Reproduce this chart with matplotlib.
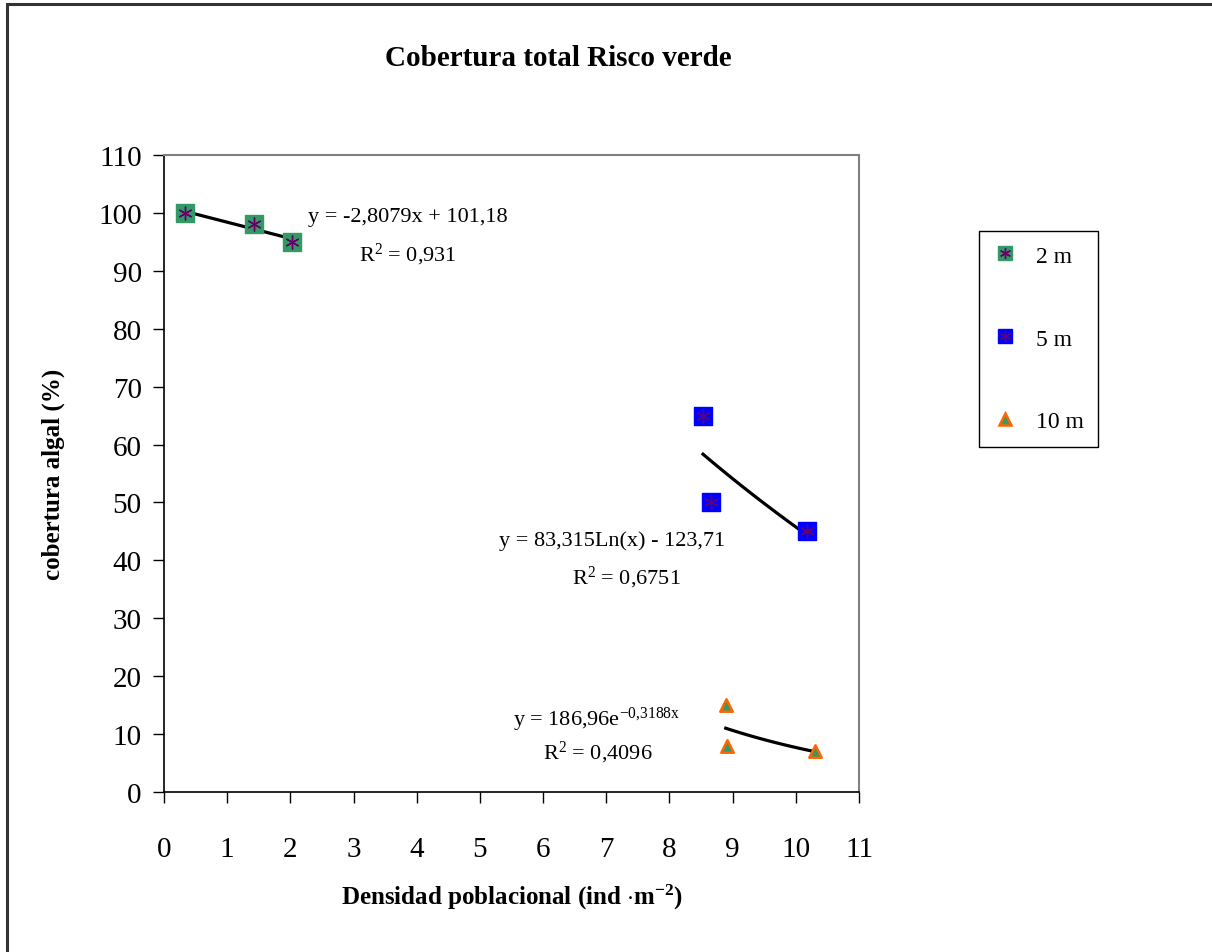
import numpy as np
import matplotlib.pyplot as plt
from matplotlib.patches import Rectangle
from matplotlib.lines import Line2D

plt.rcParams['font.family'] = ['Liberation Serif', 'DejaVu Serif']
plt.rcParams['mathtext.fontset'] = 'custom'
plt.rcParams['mathtext.rm'] = 'Liberation Serif'
plt.rcParams['mathtext.it'] = 'Liberation Serif:italic'
plt.rcParams['mathtext.bf'] = 'Liberation Serif:bold'

# data
x_2m = [0.33, 1.42, 2.03]
y_2m = [100, 98, 95]
x_5m = [8.53, 8.65, 10.17]
y_5m = [65, 50, 45]
x_10m = [8.89, 8.91, 10.30]
y_10m = [15, 8, 7]

labels = ['2 m', '5 m', '10 m']
eq_2m = ['y = -2,8079x + 101,18', 'R$^2$ = 0,931']
eq_5m = ['y = 83,315Ln(x) - 123,71', 'R$^2$ = 0,6751']
eq_10m = [r'y = 186,96e$^{\mathrm{-0{,}3188x}}$', 'R$^2$ = 0,4096']

green = '#339966'
purple = '#660066'
blue = '#0000FF'
orange = '#FF6600'

fig = plt.figure(figsize=(12.12, 9.53), dpi=100)
ax = fig.add_axes([0.1353, 0.1679, 0.5735, 0.6684])

# trendlines fitted to the plotted points
xx = np.linspace(min(x_2m), max(x_2m), 50)
p = np.polyfit(x_2m, y_2m, 1)
ax.plot(xx, np.polyval(p, xx), color='black', lw=2.3, zorder=2)

xx = np.linspace(min(x_5m), max(x_5m), 50)
p = np.polyfit(np.log(x_5m), y_5m, 1)
ax.plot(xx, p[0] * np.log(xx) + p[1], color='black', lw=2.3, zorder=2)

xx = np.linspace(min(x_10m), max(x_10m), 50)
p = np.polyfit(x_10m, np.log(y_10m), 1)
ax.plot(xx, np.exp(p[1] + p[0] * xx), color='black', lw=2.3, zorder=2)

# markers
ax.scatter(x_2m, y_2m, marker='s', s=150, color=green, zorder=3)
ax.scatter(x_2m, y_2m, marker=(6, 2, 0), s=90, color=purple, lw=1.0, zorder=4)
ax.scatter(x_5m, y_5m, marker='s', s=150, color=blue, zorder=3)
ax.scatter(x_5m, y_5m, marker=(6, 2, 0), s=90, color=purple, lw=1.0, zorder=4)
ax.scatter(x_10m, y_10m, marker='^', s=80, color=green, edgecolor=orange,
           lw=1.8, zorder=3)

# equations
ax.text(3.86, 99.3, eq_2m[0], ha='center', va='center', fontsize=16)
ax.text(3.86, 93.0, eq_2m[1], ha='center', va='center', fontsize=16)
ax.text(7.09, 43.5, eq_5m[0], ha='center', va='center', fontsize=16)
ax.text(7.31, 37.2, eq_5m[1], ha='center', va='center', fontsize=16)
ax.text(6.85, 12.6, eq_10m[0], ha='center', va='center', fontsize=16)
ax.text(6.87, 7.0, eq_10m[1], ha='center', va='center', fontsize=16)

ax.set_xlim(0, 11)
ax.set_ylim(0, 110)
ax.set_xticks(range(0, 12))
ax.set_yticks(range(0, 111, 10))
ax.tick_params(axis='both', direction='out', length=8, width=1, labelsize=21)
ax.tick_params(axis='x', pad=24)
ax.tick_params(axis='y', pad=8)
for s in ['top', 'right']:
    ax.spines[s].set_color('#808080')
    ax.spines[s].set_linewidth(1.5)
for s in ['left', 'bottom']:
    ax.spines[s].set_color('black')
    ax.spines[s].set_linewidth(1.2)

ax.set_xlabel('Densidad poblacional (ind $\\cdot$m$^{\\mathbf{-2}}$)',
              fontsize=18, fontweight='bold', labelpad=14)
ax.set_ylabel('cobertura algal (%)', fontsize=18, fontweight='bold', labelpad=24)
fig.text(0.4604, 0.939, 'Cobertura total Risco verde', ha='center', va='center',
         fontsize=21, fontweight='bold')

# legend
h2 = (Line2D([], [], ls='', marker='s', ms=10, color=green),
      Line2D([], [], ls='', marker=(6, 2, 0), ms=8, color=purple, mew=1.0))
h5 = (Line2D([], [], ls='', marker='s', ms=10, color=blue),
      Line2D([], [], ls='', marker=(6, 2, 0), ms=8, color=purple, mew=1.0))
h10 = Line2D([], [], ls='', marker='^', ms=8, color=green, mec=orange, mew=1.8)
leg = fig.legend([h2, h5, h10], labels, loc='upper left',
                 bbox_to_anchor=(0.8078, 0.7566), bbox_transform=fig.transFigure,
                 borderaxespad=0, fontsize=17, labelspacing=2.6, handlelength=1.0,
                 handletextpad=0.8, borderpad=0.6, fancybox=False,
                 edgecolor='black', framealpha=1)
leg.get_frame().set_linewidth(1.0)

# outer chart border
fig.patches.append(Rectangle((0.006, -0.01), 1.2, 1.0048, transform=fig.transFigure,
                             fill=False, edgecolor='#333333', lw=2.2))

fig.savefig('out.png', dpi=100)
